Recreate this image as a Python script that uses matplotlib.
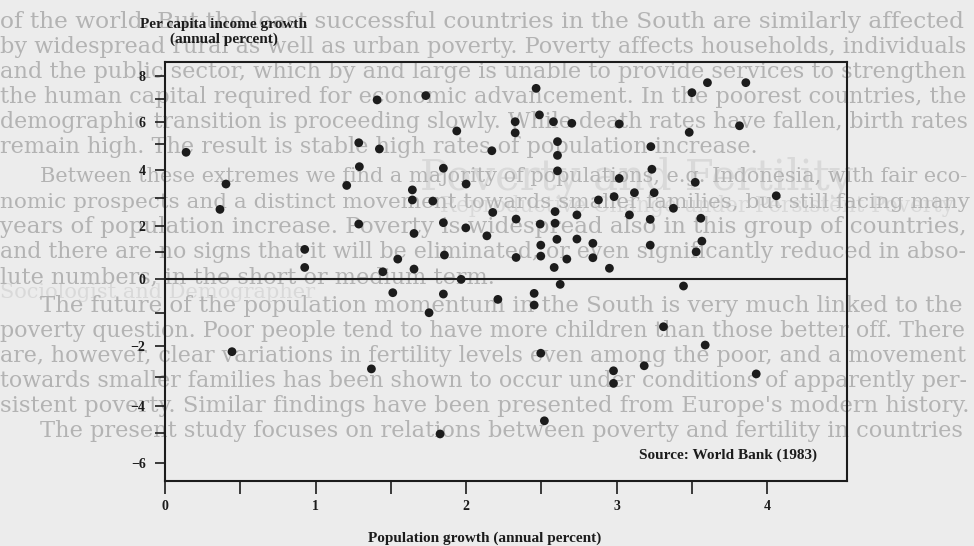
import numpy as np
import matplotlib.pyplot as plt
from matplotlib.ticker import FixedLocator, NullFormatter, FuncFormatter

# population growth, annual percent (x) -- one entry per country
pop_growth = [0.14, 0.405, 0.365, 0.445, 0.928, 0.928, 1.207, 1.287, 1.291, 1.287,
              1.371, 1.409, 1.424, 1.447, 1.513, 1.546, 1.643, 1.643, 1.654, 1.654,
              1.732, 1.754, 1.779, 1.827, 1.849, 1.849, 1.856, 1.849, 1.938, 1.967,
              2.0, 1.998, 2.138, 2.171, 2.177, 2.211, 2.326, 2.326, 2.332, 2.332,
              2.452, 2.452, 2.465, 2.487, 2.492, 2.496, 2.496, 2.496, 2.520, 2.580,
              2.607, 2.607, 2.607, 2.591, 2.591, 2.603, 2.585, 2.625, 2.669, 2.702,
              2.736, 2.736, 2.842, 2.842, 2.879, 2.952, 2.983, 2.979, 2.979, 3.017,
              3.017, 3.085, 3.118, 3.183, 3.227, 3.223, 3.223, 3.234, 3.249, 3.311,
              3.377, 3.444, 3.482, 3.5, 3.522, 3.528, 3.559, 3.566, 3.588, 3.603,
              3.816, 3.858, 3.927, 4.06]
# per capita income growth, annual percent (y)
income_growth = [4.69, 3.5, 2.59, -2.18, 1.11, 0.44, 3.45, 5.07, 4.13, 2.06,
                 -2.73, 6.96, 4.82, 0.28, -0.40, 0.75, 3.29, 2.93, 1.71, 0.38,
                 7.15, -1.0, 2.89, -5.02, 4.07, 2.11, 0.90, -0.44, 5.59, 0.0,
                 3.5, 1.92, 1.62, 4.75, 2.48, -0.60, 6.0, 5.51, 2.24, 0.81,
                 -0.42, -0.77, 7.47, 6.30, 2.06, 1.27, 0.86, -2.23, -4.54, 6.0,
                 5.12, 4.57, 3.97, 2.51, 2.09, 1.49, 0.44, -0.15, 0.75, 5.93,
                 2.39, 1.50, 1.34, 0.80, 2.93, 0.41, 3.05, -2.79, -3.21, 5.90,
                 3.70, 2.39, 3.19, -2.63, 4.91, 2.23, 1.27, 4.03, 3.19, -1.42,
                 2.63, -0.20, 5.53, 7.28, 3.56, 1.02, 2.27, 1.42, -1.97, 7.72,
                 5.82, 7.72, -2.89, 3.08]

x_major = [0, 1, 2, 3, 4]
x_minor = [0.5, 1.5, 2.5, 3.5]
y_major = [-6, -4, -2, 0, 2, 4, 6, 8]
y_minor = [-5, -3, -1, 1, 3, 5, 7]

# the printed y axis is not evenly spaced (scan stretch), so map it piecewise
scan_vals = [-8, -6, -5, -4, -3, -2, -1, 0, 1, 2, 3, 4, 5, 6, 7, 8, 10]
scan_pos = [521.5, 462.7, 433.3, 406, 377.3, 346, 312.7, 279.3, 252.3,
            225.7, 198, 170, 144.3, 121.7, 99, 76.3, 30.9]
scan_neg = [-p for p in scan_pos]

def fwd(v):
    return np.interp(v, scan_vals, scan_neg)

def inv(u):
    return np.interp(u, scan_neg, scan_vals)

page_lines = [
    "of the world. But the least successful countries in the South are similarly affected",
    "by widespread rural as well as urban poverty. Poverty affects households, individuals",
    "and the public sector, which by and large is unable to provide services to strengthen",
    "the human capital required for economic advancement. In the poorest countries, the",
    "demographic transition is proceeding slowly. While death rates have fallen, birth rates",
    "remain high. The result is stable high rates of population increase.",
    "Between these extremes we find a majority of populations, e.g. Indonesia, with fair eco-",
    "nomic prospects and a distinct movement towards smaller families, but still facing many",
    "years of population increase. Poverty is widespread also in this group of countries,",
    "and there are no signs that it will be eliminated, or even significantly reduced in abso-",
    "lute numbers, in the short or medium term.",
    "The future of the population momentum in the South is very much linked to the",
    "poverty question. Poor people tend to have more children than those better off. There",
    "are, however, clear variations in fertility levels even among the poor, and a movement",
    "towards smaller families has been shown to occur under conditions of apparently per-",
    "sistent poverty. Similar findings have been presented from Europe's modern history.",
    "The present study focuses on relations between poverty and fertility in countries",
]
line_y = [22, 47, 72, 97, 122, 147, 177, 202, 227, 252, 277, 306, 331, 356, 381, 406, 431]
indented = [6, 11, 16]
last_in_par = [5, 10]

W, H = 974, 546
ink = '#1c1c1c'
fig = plt.figure(figsize=(W / 100, H / 100), dpi=100, facecolor='#ececec')

# faint page text behind the chart, stretched to the column width
renderer = fig.canvas.get_renderer()
sizes = []
short = []
for i, (s, yy) in enumerate(zip(page_lines, line_y)):
    x0 = 40 if i in indented else 0
    t = fig.text(x0 / W, 1 - yy / H, s, family='DejaVu Serif', fontsize=14,
                 color='#b3b3b3', ha='left', va='center', zorder=-5)
    if i in last_in_par:
        short.append(t)
        continue
    w = t.get_window_extent(renderer).width
    t.set_fontsize(14 * (970 - x0) / w)
    sizes.append(14 * (970 - x0) / w)
for t in short:
    t.set_fontsize(np.median(sizes))

fig.text(420 / W, 1 - 178 / H, "Poverty and Fertility", family='DejaVu Serif',
         fontsize=30, color='#d9d9d9', ha='left', va='center', zorder=-6)
fig.text(440 / W, 1 - 206 / H, "Reproductive Change under Persistent Poverty",
         family='DejaVu Serif', fontsize=15.5, color='#d9d9d9', ha='left', va='center', zorder=-6)
fig.text(0, 1 - 292 / H, "Sociologist and Demographer", family='DejaVu Serif',
         fontsize=15, color='#d9d9d9', ha='left', va='center', zorder=-6)

ax = fig.add_axes([165 / W, 1 - 481 / H, (847 - 165) / W, (481 - 62) / H])
ax.set_facecolor('none')
ax.set_yscale('function', functions=(fwd, inv))
ax.scatter(pop_growth, income_growth, s=40, color=ink, edgecolors='none', zorder=3)
ax.axhline(0, color=ink, lw=1.5, zorder=2)

ax.set_xlim(0, 4.53)
ax.set_ylim(-6.62, 8.63)
ax.xaxis.set_major_locator(FixedLocator(x_major))
ax.xaxis.set_minor_locator(FixedLocator(x_minor))
ax.yaxis.set_major_locator(FixedLocator(y_major))
ax.yaxis.set_minor_locator(FixedLocator(y_minor))
ax.yaxis.set_minor_formatter(NullFormatter())
fmt = FuncFormatter(lambda v, p: f"{v:.0f}".replace('-', '\u2212'))
ax.xaxis.set_major_formatter(fmt)
ax.yaxis.set_major_formatter(fmt)

for sp in ax.spines.values():
    sp.set_linewidth(1.5)
    sp.set_color(ink)
ax.tick_params(axis='y', which='both', direction='out', length=7, width=1.2,
               pad=7, colors=ink)
ax.tick_params(axis='x', which='both', direction='out', length=9, width=1.2,
               pad=5, colors=ink)
for lab in ax.get_xticklabels() + ax.get_yticklabels():
    lab.set_family('Liberation Serif')
    lab.set_fontweight('bold')
    lab.set_fontsize(10)

ax.text(0.956, 0.062, "Source: World Bank (1983)", transform=ax.transAxes,
        ha='right', va='center', family='Liberation Serif', fontweight='bold',
        fontsize=11, color=ink)
fig.text(224 / W, 1 - 32 / H, "Per capita income growth\n(annual percent)",
         ha='center', va='center', family='Liberation Serif', fontweight='bold',
         fontsize=11, color=ink, linespacing=1.15)
fig.text(485 / W, 1 - 538 / H, "Population growth (annual percent)",
         ha='center', va='center', family='Liberation Serif', fontweight='bold',
         fontsize=11, color=ink)

fig.savefig('out.png', dpi=100, facecolor=fig.get_facecolor())
